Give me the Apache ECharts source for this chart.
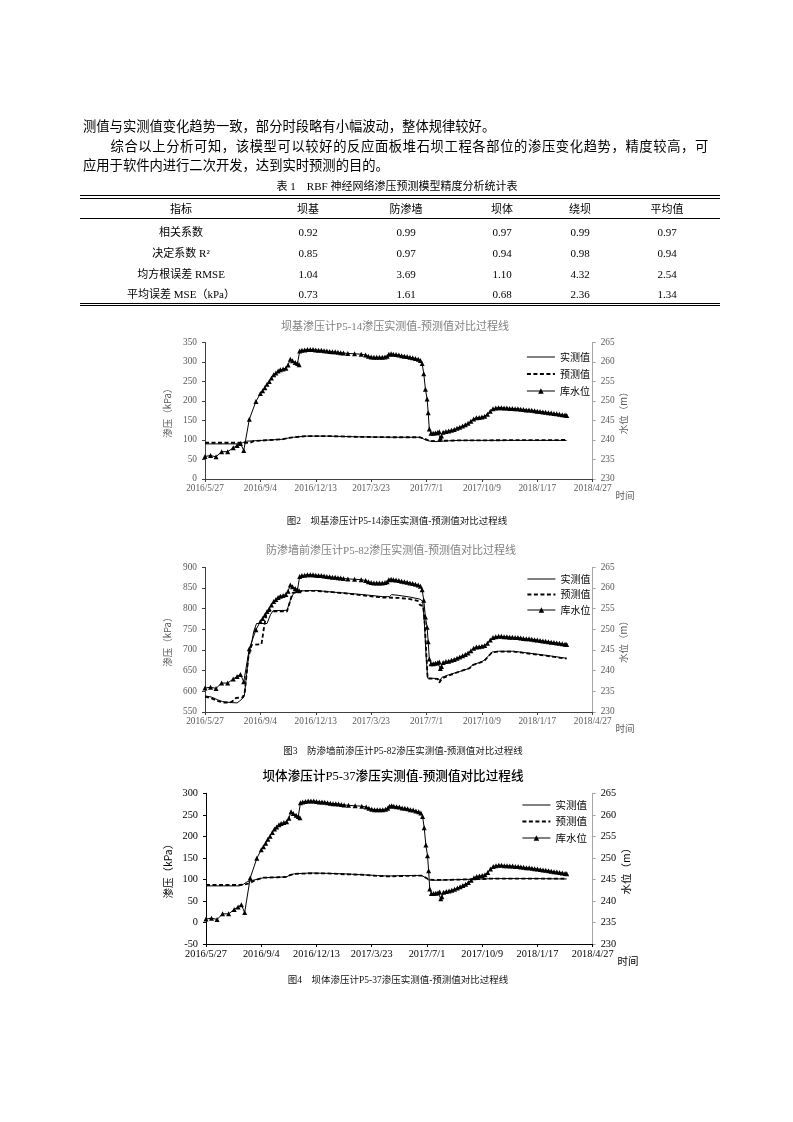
<!DOCTYPE html>
<html><head><meta charset="utf-8">
<script src="https://cdn.jsdelivr.net/npm/echarts/dist/echarts.min.js"></script>
<style>
body{margin:0;background:#fff;}
#page{position:relative;width:793px;height:1122px;overflow:hidden;background:#fff;color:#000;font-family:"Liberation Serif","Noto Sans CJK SC",serif;}
#chart{position:absolute;left:0;top:0;width:793px;height:1122px;}
.t{position:absolute;white-space:nowrap;z-index:2;}
.rule{position:absolute;left:80px;width:640px;background:#000;z-index:2;}
</style></head><body>
<div id="page"><div id="chart"></div></div>
<script>
// ---------------- text content ----------------
const paraLines = [
  '测值与实测值变化趋势一致，部分时段略有小幅波动，整体规律较好。',
  '综合以上分析可知，该模型可以较好的反应面板堆石坝工程各部位的渗压变化趋势，精度较高，可',
  '应用于软件内进行二次开发，达到实时预测的目的。'
];
const tableCaption = '表 1\u2003RBF 神经网络渗压预测模型精度分析统计表';
const tableHeader = ['指标', '坝基', '防渗墙', '坝体', '绕坝', '平均值'];
const tableRows = [
  ['相关系数', '0.92', '0.99', '0.97', '0.99', '0.97'],
  ['决定系数 R²', '0.85', '0.97', '0.94', '0.98', '0.94'],
  ['均方根误差 RMSE', '1.04', '3.69', '1.10', '4.32', '2.54'],
  ['平均误差 MSE（kPa）', '0.73', '1.61', '0.68', '2.36', '1.34']
];
const chartTitles = [
  '坝基渗压计P5-14渗压实测值-预测值对比过程线',
  '防渗墙前渗压计P5-82渗压实测值-预测值对比过程线',
  '坝体渗压计P5-37渗压实测值-预测值对比过程线'
];
const figCaptions = [
  '图2\u2003坝基渗压计P5-14渗压实测值-预测值对比过程线',
  '图3\u2003防渗墙前渗压计P5-82渗压实测值-预测值对比过程线',
  '图4\u2003坝体渗压计P5-37渗压实测值-预测值对比过程线'
];
const legendNames = ['实测值', '预测值', '库水位'];
const xAxisName = '时间';
const leftAxisName = '渗压（kPa）';
const rightAxisName = '水位（m）';
// x tick labels: one every 100 days starting 2016/5/27
const xTickLabels = ['2016/5/27', '2016/9/4', '2016/12/13', '2017/3/23', '2017/7/1', '2017/10/9', '2018/1/17', '2018/4/27'];

// ---------------- data: [days since 2016/5/27, value] ----------------
const waterLevel = [
  [0,235.8],[10,236.0],[20,235.7],[30,237.0],[41,237.0],[51,238.0],[58,238.6],[64,239.1],[70,237.3],
  [80,245.3],[92,249.9],[100,251.9],[104,252.6],[108,253.4],[112,254.3],[116,255.0],[120,255.9],[124,256.7],
  [128,257.2],[132,257.7],[136,258.0],[141,258.2],[146,258.4],[150,259.2],[154,260.7],[158,260.3],[163,259.9],
  [167,259.6],[170,259.3],[171,262.8],[175,263.0],[180,263.1],[185,263.2],[190,263.2],[195,263.2],[200,263.1],
  [205,263.0],[210,263.0],[215,262.9],[220,262.8],[225,262.7],[230,262.6],[235,262.6],[240,262.5],[245,262.4],
  [250,262.3],[258,262.2],[270,262.1],[282,262.0],[290,261.8],[295,261.5],[300,261.3],[305,261.2],[310,261.2],
  [315,261.2],[320,261.2],[325,261.3],[329,261.5],[332,262.0],[336,262.1],[340,262.0],[345,261.9],[350,261.8],
  [355,261.6],[360,261.5],[365,261.4],[370,261.2],[375,261.1],[380,260.9],[385,260.7],[389,260.4],[392,259.6],
  [395,257.0],[398,253.0],[401,250.5],[403,247.0],[405,242.8],[408,241.7],[412,241.7],[416,241.8],[420,241.9],
  [423,242.1],[425,240.5],[427,241.0],[430,242.0],[435,242.2],[440,242.3],[445,242.5],[450,242.7],[455,243.0],
  [460,243.3],[465,243.6],[470,243.9],[475,244.3],[480,244.8],[485,245.4],[490,245.7],[495,245.8],[500,245.9],
  [505,246.1],[510,246.6],[515,247.4],[520,248.0],[525,248.2],[530,248.3],[535,248.3],[540,248.2],[545,248.2],
  [550,248.1],[555,248.1],[560,248.0],[565,248.0],[570,247.9],[575,247.8],[580,247.7],[585,247.7],[590,247.6],
  [595,247.5],[600,247.4],[605,247.3],[610,247.2],[615,247.1],[620,247.0],[625,246.9],[630,246.8],[635,246.7],
  [640,246.6],[645,246.5],[650,246.4],[653,246.3]
];
const p514Measured = [
  [0,90],[60,90],[68,93],[75,97],[117,100],[141,102],[150,105],[160,107],[183,110],[220,110],[280,108],
  [340,107],[388,107],[400,99],[410,96],[420,96],[440,98],[460,99],[653,99]
];
const p514Predicted = [
  [0,93],[75,93],[80,92],[88,97],[117,100],[141,102],[150,105],[160,107],[183,110],[220,110],[280,108],
  [340,107],[388,107],[395,104],[405,98],[415,97],[430,98],[460,99],[653,100]
];
const p582Measured = [
  [0,589],[12,586],[22,580],[32,575],[45,573],[58,572],[63,577],[68,583],[71,588],[75,640],[80,700],[84,716],
  [88,745],[93,764],[112,764],[118,785],[123,795],[148,796],[154,820],[160,837],[175,843],[200,844],[230,840],
  [260,837],[300,832],[320,829],[333,829],[337,834],[350,832],[370,828],[388,823],[393,818],[396,770],[399,690],
  [402,632],[421,631],[424,626],[428,634],[440,640],[460,648],[478,656],[482,663],[500,672],[505,676],[512,686],
  [518,695],[530,697],[557,697],[581,693],[611,688],[653,680]
];
const p582Predicted = [
  [0,587],[12,583],[22,577],[32,573],[45,573],[52,578],[56,584],[68,585],[72,600],[78,680],[84,712],[102,714],
  [106,750],[111,790],[115,794],[148,793],[153,815],[158,838],[175,843],[200,843],[230,840],[260,836],[300,830],
  [320,827],[350,826],[370,823],[384,819],[388,809],[394,806],[397,760],[400,680],[402,631],[420,630],[423,621],
  [428,631],[440,638],[460,648],[478,656],[482,663],[500,671],[505,675],[512,685],[518,694],[530,696],[557,696],
  [581,692],[611,687],[653,679]
];
const p537Measured = [
  [0,85],[30,85],[60,85],[68,89],[75,95],[85,98],[95,101],[104,104],[130,105],[146,106],[152,110],[160,113],
  [190,115],[220,114],[250,113],[280,111],[310,109],[330,108],[360,109],[390,109],[395,106],[403,99],[412,98],
  [440,99],[470,100],[500,101],[520,102],[560,102],[600,102],[653,101]
];
const p537Predicted = [
  [0,87],[30,87],[60,87],[70,88],[80,92],[90,99],[104,104],[130,105],[146,106],[152,110],[160,113],[190,114],
  [220,114],[250,112],[280,111],[310,108],[330,107],[360,108],[390,109],[395,106],[403,100],[412,99],[440,99],
  [470,100],[500,101],[520,102],[560,102],[600,102],[653,102]
];

// ---------------- HTML text ----------------
const page = document.getElementById('page');
function addText(txt, opt) {
  const d = document.createElement('div');
  d.className = 't';
  d.textContent = txt;
  Object.assign(d.style, opt);
  page.appendChild(d);
  return d;
}
function centerText(txt, cx, cy, size, extra) {
  return addText(txt, Object.assign({left: (cx - 300) + 'px', width: '600px', textAlign: 'center',
    top: (cy - 10) + 'px', lineHeight: '20px', fontSize: size + 'px'}, extra || {}));
}
const paraFont = 13.3;
addText(paraLines[0], {left: '83px', top: '117px', lineHeight: '20px', fontSize: paraFont + 'px'});
addText(paraLines[1], {left: '110.5px', top: '136.5px', lineHeight: '20px', fontSize: paraFont + 'px', letterSpacing: '0.62px'});
addText(paraLines[2], {left: '83px', top: '156px', lineHeight: '20px', fontSize: paraFont + 'px'});
centerText(tableCaption, 397, 186, 11, {fontWeight: 'normal'});

function rule(y, h) {
  const d = document.createElement('div');
  d.className = 'rule';
  d.style.top = y + 'px';
  d.style.height = h + 'px';
  page.appendChild(d);
}
rule(195, 1.4); rule(198.2, 0.7); rule(217.8, 0.7); rule(302.8, 0.7); rule(305, 1.4);
const colX = [181, 308, 406, 502, 580, 667];
const rowY = [231.5, 252.5, 273.5, 294];
tableHeader.forEach((h, i) => centerText(h, colX[i], 208.5, 11));
tableRows.forEach((row, r) => row.forEach((c, i) => centerText(c, colX[i], rowY[r], 11)));

const titleY = [326, 549.5, 776];
const titleX = [395, 391, 393];
centerText(chartTitles[0], titleX[0], titleY[0], 11, {color: '#808080'});
centerText(chartTitles[1], titleX[1], titleY[1], 11, {color: '#808080'});
centerText(chartTitles[2], titleX[2], titleY[2], 12.6, {color: '#000', fontWeight: '500'});
const capY = [521, 750.5, 980];
const capX = [397, 403, 398];
figCaptions.forEach((c, i) => centerText(c, capX[i], capY[i], 9.5, {color: '#111'}));

// ---------------- charts ----------------
const numFont = '"Liberation Serif","Noto Sans CJK SC",serif';
const cjkFont = '"Noto Sans CJK SC","Liberation Serif",sans-serif';
const panels = [
  {measured: p514Measured, predicted: p514Predicted, grid: {left: 205, top: 342.5, width: 387.7, height: 136.5},
   yMin: 0, yMax: 350, labelColor: '#595959', axisColor: '#404040', fs: 9.3, nameFs: 9.5, nameColor: '#595959',
   legendTop: 345.5, legendLeft: 521, legendFs: 10, legendLH: 13, legendGap: 4, leftGap: 33, rightGap: 25},
  {measured: p582Measured, predicted: p582Predicted, grid: {left: 205, top: 567.3, width: 387.7, height: 144.7},
   yMin: 550, yMax: 900, labelColor: '#595959', axisColor: '#404040', fs: 9.3, nameFs: 9.5, nameColor: '#595959',
   legendTop: 568, legendLeft: 521.5, legendFs: 10, legendLH: 12, legendGap: 3.5, leftGap: 33, rightGap: 25},
  {measured: p537Measured, predicted: p537Predicted, grid: {left: 206, top: 793.3, width: 386.7, height: 150.7},
   yMin: -50, yMax: 300, labelColor: '#000', axisColor: '#000', fs: 10.3, nameFs: 10.5, nameColor: '#000',
   legendTop: 793.5, legendLeft: 516.5, legendFs: 10.5, legendLH: 13, legendGap: 3.5, leftGap: 33, rightGap: 28}
];

const option = {animation: false, backgroundColor: 'transparent', grid: [], xAxis: [], yAxis: [], series: [], legend: []};
panels.forEach((p, i) => {
  option.grid.push(Object.assign({containLabel: false}, p.grid));
  option.xAxis.push({
    type: 'value', gridIndex: i, min: 0, max: 700, interval: 100,
    axisLine: {show: true, onZero: false, lineStyle: {color: p.axisColor, width: 1}},
    axisTick: {show: true, length: 3, lineStyle: {color: p.axisColor}},
    splitLine: {show: false},
    axisLabel: {margin: 5, color: p.labelColor, fontSize: p.fs, fontFamily: numFont,
      formatter: v => xTickLabels[Math.round(v / 100)] || ''},
    name: xAxisName, nameLocation: 'end', nameGap: 15,
    nameTextStyle: {color: p.nameColor, fontSize: p.nameFs, fontFamily: cjkFont, align: 'left', verticalAlign: 'top', padding: [12, 0, 0, 0]}
  });
  option.yAxis.push({
    type: 'value', gridIndex: i, position: 'left', min: p.yMin, max: p.yMax, interval: 50,
    axisLine: {show: true, onZero: false, lineStyle: {color: p.axisColor, width: 1}},
    axisTick: {show: true, length: 3, lineStyle: {color: p.axisColor}},
    splitLine: {show: false},
    axisLabel: {margin: 8, color: p.labelColor, fontSize: p.fs, fontFamily: numFont},
    name: leftAxisName, nameLocation: 'middle', nameRotate: 90, nameGap: p.leftGap,
    nameTextStyle: {color: p.nameColor, fontSize: p.nameFs, fontFamily: cjkFont}
  });
  option.yAxis.push({
    type: 'value', gridIndex: i, position: 'right', min: 230, max: 265, interval: 5,
    axisLine: {show: true, onZero: false, lineStyle: {color: '#a6a6a6', width: 1}},
    axisTick: {show: true, length: 3, lineStyle: {color: '#a6a6a6'}},
    splitLine: {show: false},
    axisLabel: {margin: 8, color: p.labelColor, fontSize: p.fs, fontFamily: numFont},
    name: rightAxisName, nameLocation: 'middle', nameRotate: 90, nameGap: p.rightGap,
    nameTextStyle: {color: p.nameColor, fontSize: p.nameFs, fontFamily: cjkFont}
  });
  option.series.push({
    type: 'line', name: legendNames[0], xAxisIndex: i, yAxisIndex: 2 * i, data: p.measured,
    symbol: 'none', lineStyle: {color: '#000', width: 1}, itemStyle: {color: '#000'}, z: 3
  });
  option.series.push({
    type: 'line', name: legendNames[1], xAxisIndex: i, yAxisIndex: 2 * i, data: p.predicted,
    symbol: 'none', lineStyle: {color: '#000', width: 1.8, type: [4, 2.5]}, itemStyle: {color: '#000'}, z: 4
  });
  option.series.push({
    type: 'line', name: legendNames[2], xAxisIndex: i, yAxisIndex: 2 * i + 1, data: waterLevel,
    symbol: 'triangle', symbolSize: 5, showSymbol: true, lineStyle: {color: '#000', width: 1},
    itemStyle: {color: '#000'}, z: 5
  });
  option.legend.push({
    data: [
      {name: legendNames[0], itemStyle: {opacity: 0}},
      {name: legendNames[1], itemStyle: {opacity: 0}},
      {name: legendNames[2]}
    ],
    orient: 'vertical', left: p.legendLeft, top: p.legendTop,
    itemWidth: 28, itemHeight: 7, itemGap: p.legendGap,
    lineStyle: {width: 'inherit'},
    textStyle: {color: '#000', fontSize: p.legendFs, lineHeight: p.legendLH, fontFamily: cjkFont},
    selectedMode: false
  });
});

const chart = echarts.init(document.getElementById('chart'), null, {renderer: 'canvas'});
chart.setOption(option);
</script>
</body></html>
